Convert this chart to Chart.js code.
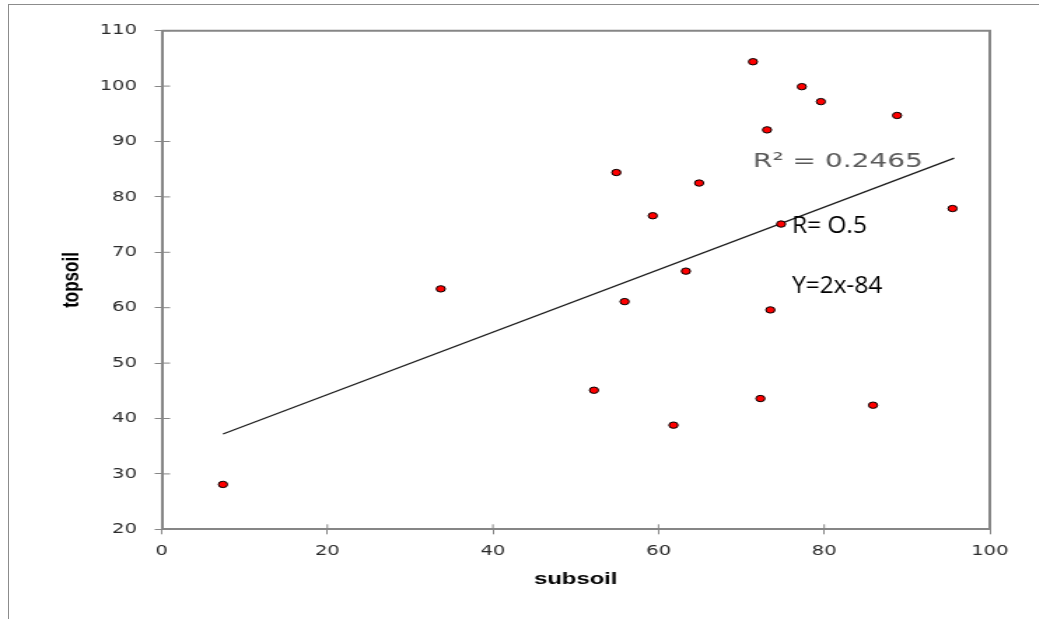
<!DOCTYPE html>
<html>
<head>
<meta charset="utf-8">
<script src="https://cdn.jsdelivr.net/npm/chart.js@4.4.0/dist/chart.umd.min.js"></script>
<style>
    html, body { margin: 0; padding: 0; background: #fff; overflow: hidden; width: 1039px; height: 619px; }
    #frame { position: absolute; left: 8px; top: 4px; width: 1100px; height: 700px; border: 1px solid #8c8c8c; }
    /* the source picture is stretched sideways, so the chart is drawn narrow and scaled */
    #wrap { position: absolute; left: 0; top: 0; width: 742px; height: 619px; transform: scaleX(1.4); transform-origin: 0 0; }
</style>
</head>
<body>
<div id="frame"></div>
<div id="wrap"><canvas id="chart"></canvas></div>
<script>
const STRETCH = 1.4;

const subsoil = [33.7, 7.4, 71.4, 77.3, 79.6, 88.8, 73.1, 54.9, 64.9, 59.3, 95.5, 74.8, 63.3, 55.9, 73.5, 52.2, 61.8, 72.3, 85.9];
const topsoil = [63.4, 28.1, 104.4, 99.9, 97.2, 94.7, 92.1, 84.4, 82.5, 76.6, 77.9, 75.1, 66.6, 61.1, 59.6, 45.1, 38.8, 43.6, 42.4];

const trendX = [7.4, 95.7];
const trendY = [37.2, 87.0];

const noteText = ['R² = 0.2465', 'R= O.5', 'Y=2x-84'];
const noteX = [71.4, 76.1, 76.1];
const noteY = [85.4, 73.5, 62.6];

const axisGray = '#868686';

// box round the plot + ticks that cross the axis lines
const frameAndTicks = {
    id: 'frameAndTicks',
    afterDraw(chart) {
        const ctx = chart.ctx;
        const a = chart.chartArea;
        const xs = chart.scales.x, ys = chart.scales.y;
        ctx.save();
        ctx.strokeStyle = axisGray;
        ctx.lineWidth = 2;
        ctx.beginPath();
        ctx.moveTo(a.left, a.top);
        ctx.lineTo(a.right, a.top);
        ctx.lineTo(a.right, a.bottom);
        ctx.stroke();
        ctx.lineWidth = 1;
        ctx.beginPath();
        xs.ticks.forEach(t => {
            const px = xs.getPixelForValue(t.value);
            ctx.moveTo(px, a.bottom);
            ctx.lineTo(px, a.bottom - 5);
        });
        ys.ticks.forEach(t => {
            const py = ys.getPixelForValue(t.value);
            ctx.moveTo(a.left, py);
            ctx.lineTo(a.left + 6, py);
        });
        ctx.stroke();
        ctx.restore();
    }
};

// text notes; the first belongs to the stretched chart, the other two are not stretched
const notes = {
    id: 'notes',
    afterDatasetsDraw(chart) {
        const ctx = chart.ctx;
        const xs = chart.scales.x, ys = chart.scales.y;
        noteText.forEach((txt, i) => {
            ctx.save();
            ctx.translate(xs.getPixelForValue(noteX[i]), ys.getPixelForValue(noteY[i]));
            ctx.textAlign = 'left';
            ctx.textBaseline = 'alphabetic';
            if (i === 0) {
                ctx.font = '20px "DejaVu Sans"';
                ctx.fillStyle = '#595959';
            } else {
                ctx.scale(1 / STRETCH, 1);
                ctx.font = '24.5px "Open Sans"';
                ctx.fillStyle = '#000000';
            }
            ctx.fillText(txt, 0, 0);
            ctx.restore();
        });
    }
};

new Chart(document.getElementById('chart'), {
    type: 'scatter',
    data: {
        datasets: [{
            label: 'topsoil',
            data: subsoil.map((x, i) => ({ x: x, y: topsoil[i] })),
            backgroundColor: '#ff0000',
            borderColor: '#000000',
            borderWidth: 1,
            pointRadius: 3.2,
            order: 1
        }, {
            label: 'trend',
            data: trendX.map((x, i) => ({ x: x, y: trendY[i] })),
            showLine: true,
            borderColor: '#1a1a1a',
            borderWidth: 1.2,
            pointRadius: 0,
            order: 2
        }]
    },
    options: {
        responsive: true,
        maintainAspectRatio: false,
        animation: false,
        layout: { padding: { left: 0, top: 30.7, right: 35, bottom: 0 } },
        plugins: {
            legend: { display: false },
            tooltip: { enabled: false }
        },
        scales: {
            x: {
                type: 'linear',
                min: 0,
                max: 100,
                afterFit(scale) { scale.height = 89.7; },
                ticks: { stepSize: 20, color: '#2b2b2b', padding: 8.6, font: { family: 'DejaVu Sans', size: 14 } },
                grid: { drawOnChartArea: false, drawTicks: true, tickLength: 5, color: axisGray },
                border: { display: true, color: axisGray, width: 2 },
                title: {
                    display: true,
                    text: 'subsoil',
                    color: '#000000',
                    font: { family: 'Liberation Sans', size: 17, weight: 'bold' },
                    padding: { top: 0, bottom: 29.8 }
                }
            },
            y: {
                type: 'linear',
                min: 20,
                max: 110,
                afterFit(scale) { scale.width = 115.5; },
                ticks: { stepSize: 10, color: '#2b2b2b', padding: 12.6, font: { family: 'DejaVu Sans', size: 14 } },
                grid: { drawOnChartArea: false, drawTicks: true, tickLength: 5, color: axisGray },
                border: { display: true, color: axisGray, width: 2 },
                title: {
                    display: true,
                    text: 'topsoil',
                    color: '#000000',
                    font: { family: 'Liberation Sans', size: 17, weight: 'bold' },
                    padding: { top: 41.6, bottom: 0 }
                }
            }
        }
    },
    plugins: [frameAndTicks, notes]
});
</script>
</body>
</html>
